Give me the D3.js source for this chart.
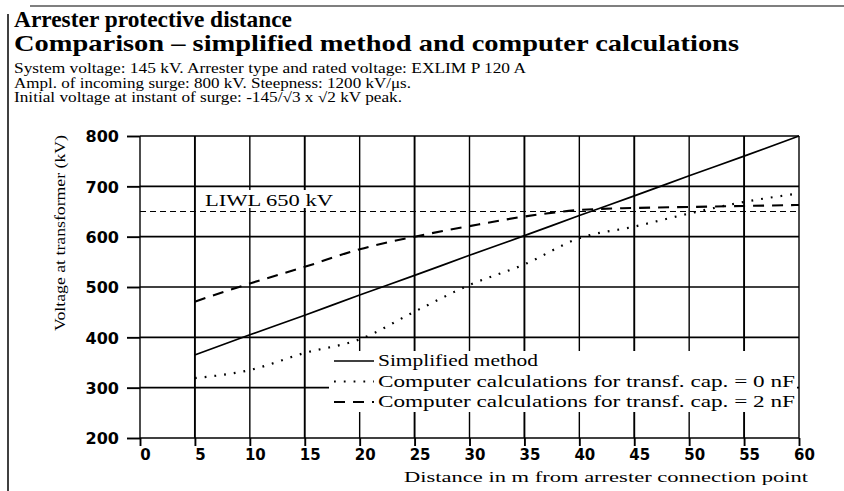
<!DOCTYPE html>
<html><head><meta charset="utf-8">
<script src="https://cdn.jsdelivr.net/npm/d3@7"></script>
<style>html,body{margin:0;padding:0;background:#fff}svg{display:block}</style>
</head><body>
<script>
const distances = [5,10,15,20,25,30,35,40,45,50,55,60];
const simplified = [365,405,444,484,523,563,602,642,681,721,760,800];
const cap0nF = [319,335,369,396,451,504,545,597,620,646,669,686];
const cap2nF = [471,507,540,575,600,621,640,653,657,659,661,663];
const liwl = 650;
const xTicks = [0,5,10,15,20,25,30,35,40,45,50,55,60];
const yTicks = [200,300,400,500,600,700,800];
const titleLines = ["Arrester protective distance","Comparison \u2013 simplified method and computer calculations"];
const subLines = ["System voltage: 145 kV. Arrester type and rated voltage: EXLIM P 120 A",
  "Ampl. of incoming surge: 800 kV. Steepness: 1200 kV/\u03bcs.",
  "Initial voltage at instant of surge: -145/\u221a3 x \u221a2 kV peak."];
const legendLabels = ["Simplified method","Computer calculations for transf. cap. = 0 nF","Computer calculations for transf. cap. = 2 nF"];

const W=844,H=491;
const svg=d3.select("body").append("svg").attr("width",W).attr("height",H);
svg.append("rect").attr("width",W).attr("height",H).attr("fill","#fff");
const serif="'Liberation Serif','DejaVu Serif',serif";
const sans="'DejaVu Sans','Liberation Sans',sans-serif";

// frame lines
svg.append("line").attr("x1",8).attr("x2",8).attr("y1",14).attr("y2",491).attr("stroke","#000").attr("stroke-width",1.5);
svg.append("line").attr("x1",30).attr("x2",844).attr("y1",6).attr("y2",6).attr("stroke","#000").attr("stroke-width",1.2);

// titles
const tW=[278,725];
titleLines.forEach((t,i)=>svg.append("text").attr("x",14).attr("y",27+i*23.5).attr("font-family",serif)
  .attr("font-weight","bold").attr("font-size",23).attr("textLength",tW[i]).attr("lengthAdjust","spacingAndGlyphs").text(t));
const sW=[512,397,388];
subLines.forEach((t,i)=>svg.append("text").attr("x",14).attr("y",73+i*14.5).attr("font-family",serif)
  .attr("font-size",14).attr("textLength",sW[i]).attr("lengthAdjust","spacingAndGlyphs").text(t));

const x=d3.scaleLinear().domain([0,60]).range([140,799]);
const y=d3.scaleLinear().domain([200,800]).range([438,136]);

// grid
const g=svg.append("g");
g.selectAll(".vg").data(xTicks).join("line").attr("x1",d=>x(d)).attr("x2",d=>x(d)).attr("y1",y(800)).attr("y2",y(200))
  .attr("stroke","#000").attr("stroke-width",d=>d%10===0?1.4:1.9);
g.selectAll(".hg").data(yTicks).join("line").attr("x1",x(0)).attr("x2",x(60)).attr("y1",d=>y(d)).attr("y2",d=>y(d))
  .attr("stroke","#000").attr("stroke-width",1.6);

// axes
const yAxis=svg.append("g").attr("transform",`translate(${x(0)},0)`).call(d3.axisLeft(y).tickValues(yTicks).tickSize(13).tickPadding(8));
const xAxis=svg.append("g").attr("transform",`translate(0,${y(200)})`).call(d3.axisBottom(x).tickValues(xTicks).tickSize(8).tickPadding(3));
[yAxis,xAxis].forEach(a=>{a.select(".domain").remove();a.selectAll("line").attr("stroke","#000").attr("stroke-width",1.9);
  a.selectAll("text").attr("font-family",sans).attr("font-weight","bold").attr("font-size",16).attr("fill","#000");});
yAxis.selectAll("text").attr("dy","0.36em");
xAxis.selectAll("text").attr("dx",5).attr("dy","0.71em").attr("font-size",15);

svg.append("text").attr("x",808).attr("y",482).attr("text-anchor","end").attr("font-family",serif).attr("font-size",15)
  .attr("textLength",404).attr("lengthAdjust","spacingAndGlyphs").text("Distance in m from arrester connection point");
svg.append("text").attr("transform","translate(65,233) rotate(-90)").attr("text-anchor","middle").attr("font-family",serif)
  .attr("font-size",15).attr("textLength",196).attr("lengthAdjust","spacingAndGlyphs").text("Voltage at transformer (kV)");

// LIWL
svg.append("line").attr("x1",x(0)).attr("x2",x(60)).attr("y1",y(liwl)).attr("y2",y(liwl)).attr("stroke","#000")
  .attr("stroke-width",1.2).attr("stroke-dasharray","6,4");
svg.append("rect").attr("x",203).attr("y",190).attr("width",134).attr("height",18).attr("fill","#fff");
svg.append("text").attr("x",205).attr("y",206).attr("font-family",serif).attr("font-size",16).attr("textLength",128)
  .attr("lengthAdjust","spacingAndGlyphs").text("LIWL 650 kV");

// data lines
const line=d3.line().x(d=>x(d[0])).y(d=>y(d[1])).curve(d3.curveMonotoneX);
const series=[
  {v:simplified,dash:null,w:1.7},
  {v:cap0nF,dash:"1.8,8",w:2.2},
  {v:cap2nF,dash:"11,8",w:2.1}
];
series.forEach(s=>{
  const p=svg.append("path").attr("d",line(distances.map((d,i)=>[d,s.v[i]]))).attr("fill","none").attr("stroke","#000").attr("stroke-width",s.w);
  if(s.dash) p.attr("stroke-dasharray",s.dash);
});

// legend
svg.append("rect").attr("x",329).attr("y",351).attr("width",468).attr("height",61).attr("fill","#fff");
const lw=[160,417,417];
legendLabels.forEach((t,i)=>{
  const cy=361+i*20.5;
  svg.append("line").attr("x1",334).attr("x2",374).attr("y1",cy).attr("y2",cy).attr("stroke","#000")
    .attr("stroke-width",series[i].w).attr("stroke-dasharray",i===0?null:(i===1?"1.8,8":"11,8"));
  svg.append("text").attr("x",378).attr("y",cy+5).attr("font-family",serif).attr("font-size",16)
    .attr("textLength",lw[i]).attr("lengthAdjust","spacingAndGlyphs").text(t);
});
</script>
</body></html>
